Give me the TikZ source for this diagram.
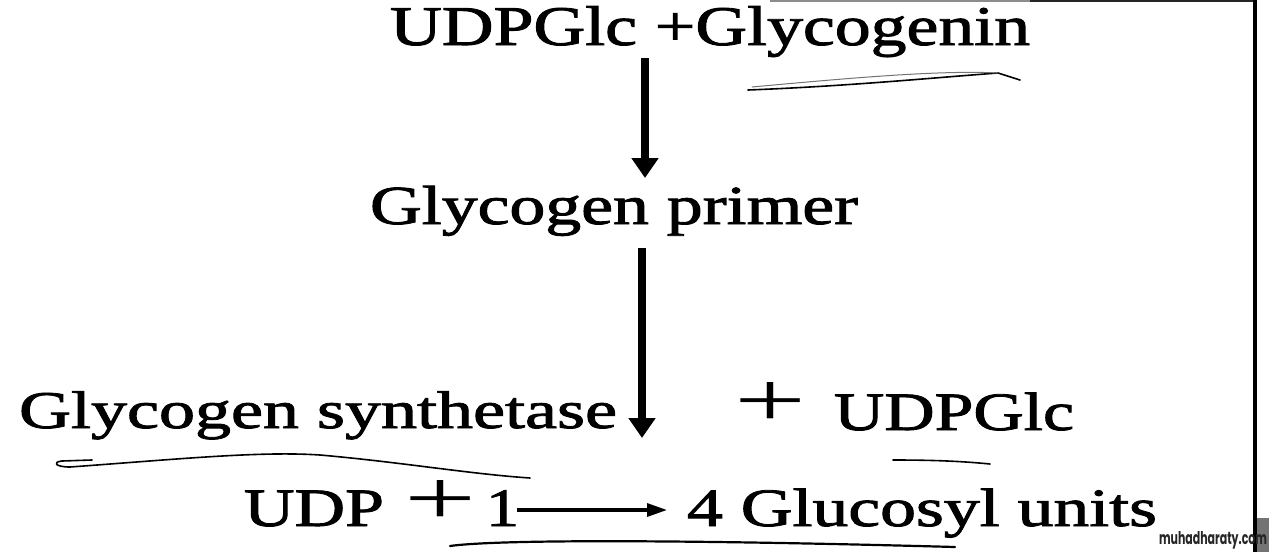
\documentclass[tikz,border=0pt]{standalone}
\usepackage{fontspec}
\setmainfont{Liberation Serif}[BoldFont={Liberation Serif}, BoldFeatures={FakeBold=1.5}]
\newfontfamily\wmfont{Poppins}
\usepackage{graphicx}
\usetikzlibrary{arrows.meta}
\newcommand{\fitw}[3]{\resizebox{#1pt}{\height}{\fontsize{#2}{#2}\selectfont\bfseries #3}}
\newcommand{\plusglyph}[2]{\resizebox{#1pt}{#2pt}{\fontsize{60}{60}\selectfont +}}
\begin{document}
\begin{tikzpicture}[x=1pt,y=-1pt,
  lbl/.style={inner sep=0pt, outer sep=0pt, anchor=base west},
  bigarrow/.style={line width=8pt, -{Triangle[width=26pt,length=20pt]}},
  smallarrow/.style={line width=3.2pt, -{Triangle[width=13pt,length=20pt]}},
  pen/.style={line width=1.6pt, line cap=round, line join=round},
  faintpen/.style={line width=1pt, line cap=round, black!55}]
\useasboundingbox (0,0) rectangle (1269,552);
\fill[white] (0,0) rectangle (1269,552);

% scan borders
\draw[line width=1.5pt, black!45] (770,1) -- (1030,1);
\draw[line width=2pt, black!85] (1030,1) -- (1256,1);
\draw[line width=4pt] (1255,0) -- (1255,552);

% texts
\node[lbl] (L1) at (390,45) {\fitw{640}{56}{UDPGlc +Glycogenin}};
\node[lbl] (L2) at (370,224) {\fitw{488}{55}{Glycogen primer}};
\node[lbl] (L3) at (19,428) {\fitw{598}{53}{Glycogen synthetase}};
\node[lbl] (P1) at (734,426) {\plusglyph{72}{44}};
\node[lbl] (U2) at (834,430) {\fitw{240}{54}{UDPGlc}};
\node[lbl] (U3) at (244,526) {\fitw{140}{54}{UDP}};
\node[lbl] (P2) at (404,524) {\plusglyph{72}{44}};
\node[lbl] (N1) at (486,526) {\fitw{33}{54}{1}};
\node[lbl] (G4) at (687,526) {\fitw{470}{54}{4 Glucosyl units}};

% arrows
\coordinate (a1s) at (645,58);
\coordinate (a1e) at (645,178);
\coordinate (a2s) at (642,248);
\coordinate (a2e) at (642,438);
\coordinate (a3s) at (517,510);
\coordinate (a3e) at (667,510);
\draw[bigarrow] (a1s) -- (a1e);
\draw[bigarrow] (a2s) -- (a2e);
\draw[smallarrow] (a3s) -- (a3e);

% hand-drawn underlines
\draw[pen] (748,90) .. controls (850,86) and (930,78) .. (998,73) -- (1020,80);
\draw[faintpen] (752,87) .. controls (850,78) and (940,70) .. (998,73);
\draw[pen] (92,460) -- (62,461) .. controls (52,462) and (55,467) .. (70,467)
  .. controls (180,459) and (260,451) .. (320,455)
  .. controls (400,462) and (470,474) .. (530,478);
\draw[pen] (893,460) .. controls (930,460) and (960,461) .. (990,464);
\draw[pen, line width=2.2pt] (450,546) .. controls (500,539) and (700,540) .. (955,547);

% watermark
\fill[black!55] (1257,518) rectangle (1269,552);
\node[lbl, text=black!85] (WM) at (1159,544) {\resizebox{108pt}{13pt}{\fontsize{15}{15}\wmfont\bfseries muhadharaty.com}};
\end{tikzpicture}
\end{document}
